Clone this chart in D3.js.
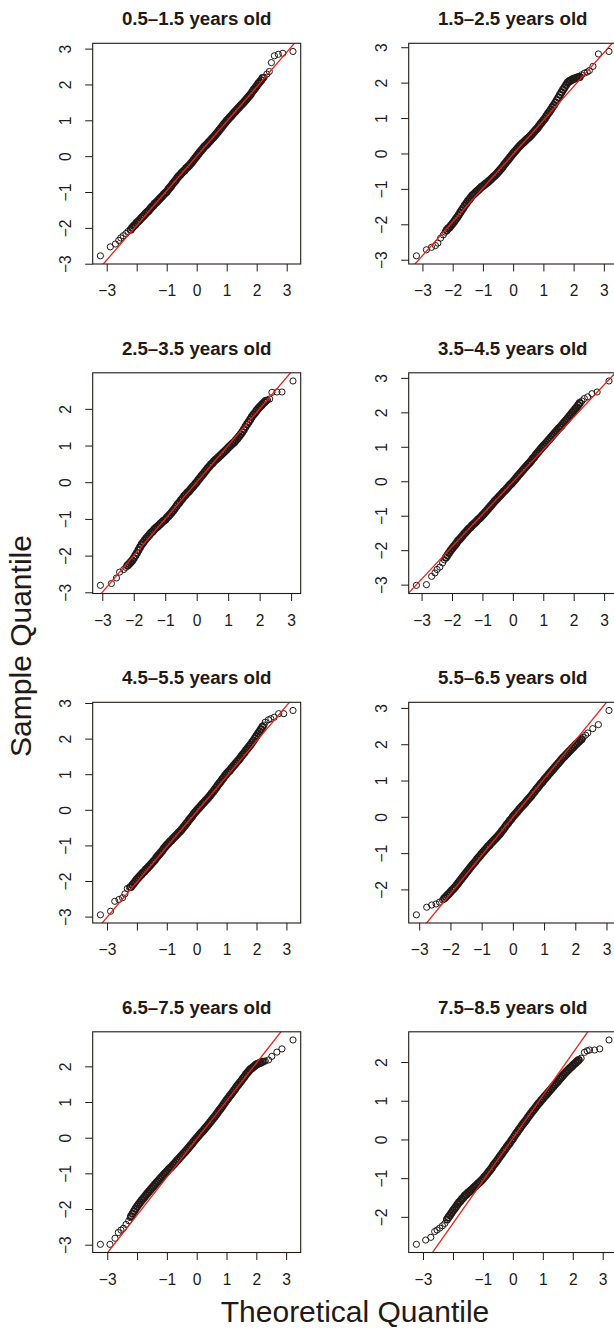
<!DOCTYPE html>
<html>
<head>
<meta charset="utf-8">
<script src="https://cdn.jsdelivr.net/npm/d3@7"></script>
<style>
  html, body { margin: 0; padding: 0; background: #ffffff; }
  svg { display: block; }
  text { font-family: "Liberation Sans", Arial, Helvetica, sans-serif; fill: #231916; }
</style>
</head>
<body>
<svg id="chart" width="614" height="1328"></svg>
<script>
// ---- data -------------------------------------------------------------
const panelTitles = [
  "0.5–1.5 years old", "1.5–2.5 years old",
  "2.5–3.5 years old", "3.5–4.5 years old",
  "4.5–5.5 years old", "5.5–6.5 years old",
  "6.5–7.5 years old", "7.5–8.5 years old"
];

// theoretical quantiles of the dense central part of every sample
const bandTheo = [-2.2,-2.15,-2.1,-2.05,-2,-1.95,-1.9,-1.85,-1.8,-1.75,-1.7,-1.65,-1.6,-1.55,-1.5,-1.45,-1.4,-1.35,-1.3,-1.25,-1.2,-1.15,-1.1,-1.05,-1,-0.95,-0.9,-0.85,-0.8,-0.75,-0.7,-0.65,-0.6,-0.55,-0.5,-0.45,-0.4,-0.35,-0.3,-0.25,-0.2,-0.15,-0.1,-0.05,0,0.05,0.1,0.15,0.2,0.25,0.3,0.35,0.4,0.45,0.5,0.55,0.6,0.65,0.7,0.75,0.8,0.85,0.9,0.95,1,1.05,1.1,1.15,1.2,1.25,1.3,1.35,1.4,1.45,1.5,1.55,1.6,1.65,1.7,1.75,1.8,1.85,1.9,1.95,2,2.05,2.1,2.15,2.2];

// sample quantiles at those theoretical quantiles, one array per age group
const sampleAge1 = [-2.05,-2.00,-1.95,-1.91,-1.86,-1.82,-1.78,-1.73,-1.69,-1.65,-1.60,-1.56,-1.52,-1.47,-1.42,-1.38,-1.33,-1.29,-1.25,-1.20,-1.16,-1.12,-1.07,-1.03,-0.99,-0.93,-0.88,-0.83,-0.77,-0.72,-0.67,-0.61,-0.56,-0.52,-0.47,-0.43,-0.39,-0.34,-0.30,-0.26,-0.21,-0.16,-0.11,-0.05,0,0.05,0.11,0.16,0.21,0.26,0.30,0.34,0.39,0.43,0.48,0.52,0.57,0.62,0.67,0.72,0.77,0.83,0.88,0.93,0.99,1.03,1.08,1.12,1.17,1.22,1.26,1.31,1.35,1.40,1.44,1.48,1.53,1.58,1.63,1.68,1.73,1.79,1.85,1.90,1.96,2.02,2.07,2.12,2.18];
const sampleAge2 = [-2.17,-2.12,-2.08,-2.03,-1.98,-1.92,-1.86,-1.80,-1.74,-1.67,-1.60,-1.54,-1.47,-1.41,-1.35,-1.30,-1.24,-1.19,-1.15,-1.11,-1.07,-1.03,-0.99,-0.95,-0.92,-0.88,-0.85,-0.82,-0.78,-0.74,-0.70,-0.66,-0.62,-0.58,-0.53,-0.48,-0.43,-0.38,-0.32,-0.27,-0.21,-0.16,-0.11,-0.05,0.00,0.05,0.10,0.15,0.20,0.24,0.28,0.32,0.36,0.40,0.44,0.48,0.52,0.57,0.62,0.67,0.71,0.77,0.83,0.88,0.94,0.99,1.06,1.12,1.18,1.24,1.31,1.37,1.44,1.51,1.58,1.66,1.73,1.80,1.86,1.93,2.00,2.03,2.06,2.08,2.11,2.12,2.14,2.15,2.16];
const sampleAge3 = [-2.27,-2.23,-2.18,-2.13,-2.07,-2.00,-1.93,-1.85,-1.77,-1.70,-1.64,-1.58,-1.53,-1.48,-1.43,-1.38,-1.34,-1.29,-1.25,-1.21,-1.17,-1.13,-1.09,-1.05,-1.02,-0.97,-0.93,-0.88,-0.83,-0.78,-0.72,-0.66,-0.60,-0.55,-0.49,-0.44,-0.38,-0.34,-0.29,-0.25,-0.20,-0.15,-0.10,-0.05,0.00,0.06,0.11,0.17,0.22,0.27,0.33,0.38,0.43,0.48,0.52,0.57,0.61,0.65,0.69,0.73,0.77,0.81,0.85,0.89,0.94,0.98,1.02,1.06,1.10,1.15,1.20,1.25,1.31,1.37,1.44,1.51,1.58,1.64,1.71,1.78,1.84,1.89,1.95,2.00,2.05,2.09,2.14,2.18,2.22];
const sampleAge4 = [-2.21,-2.15,-2.08,-2.02,-1.96,-1.90,-1.85,-1.79,-1.73,-1.68,-1.63,-1.58,-1.52,-1.48,-1.43,-1.38,-1.34,-1.29,-1.25,-1.21,-1.17,-1.12,-1.08,-1.04,-0.99,-0.94,-0.89,-0.84,-0.79,-0.74,-0.69,-0.64,-0.58,-0.54,-0.49,-0.44,-0.40,-0.35,-0.30,-0.26,-0.21,-0.16,-0.11,-0.07,-0.02,0.03,0.08,0.14,0.19,0.24,0.29,0.34,0.39,0.44,0.49,0.54,0.59,0.65,0.70,0.76,0.81,0.86,0.92,0.97,1.02,1.07,1.12,1.17,1.22,1.27,1.32,1.37,1.42,1.47,1.52,1.57,1.61,1.67,1.72,1.77,1.82,1.88,1.93,1.99,2.04,2.10,2.15,2.21,2.27];
const sampleAge5 = [-2.17,-2.11,-2.06,-2.01,-1.95,-1.91,-1.86,-1.82,-1.77,-1.73,-1.68,-1.64,-1.59,-1.55,-1.50,-1.45,-1.41,-1.35,-1.30,-1.25,-1.20,-1.15,-1.09,-1.04,-0.99,-0.95,-0.90,-0.86,-0.81,-0.77,-0.73,-0.69,-0.64,-0.60,-0.55,-0.50,-0.45,-0.39,-0.34,-0.28,-0.23,-0.18,-0.12,-0.07,-0.02,0.03,0.07,0.12,0.17,0.21,0.26,0.30,0.35,0.40,0.46,0.51,0.56,0.62,0.68,0.74,0.79,0.85,0.90,0.96,1.01,1.06,1.10,1.15,1.20,1.25,1.30,1.35,1.40,1.45,1.51,1.56,1.61,1.67,1.72,1.78,1.83,1.89,1.95,2.01,2.07,2.14,2.20,2.26,2.33];
const sampleAge6 = [-2.25,-2.21,-2.16,-2.12,-2.07,-2.02,-1.98,-1.93,-1.88,-1.82,-1.77,-1.71,-1.66,-1.60,-1.55,-1.49,-1.44,-1.38,-1.33,-1.28,-1.23,-1.17,-1.12,-1.07,-1.02,-0.97,-0.92,-0.87,-0.82,-0.78,-0.73,-0.69,-0.64,-0.60,-0.55,-0.50,-0.45,-0.39,-0.34,-0.28,-0.22,-0.17,-0.11,-0.06,0.00,0.05,0.10,0.15,0.20,0.25,0.30,0.34,0.39,0.44,0.49,0.54,0.59,0.65,0.70,0.76,0.81,0.86,0.92,0.96,1.02,1.07,1.12,1.17,1.22,1.27,1.32,1.37,1.42,1.47,1.52,1.57,1.62,1.66,1.71,1.75,1.80,1.84,1.89,1.93,1.98,2.02,2.06,2.10,2.14];
const sampleAge7 = [-2.20,-2.13,-2.06,-1.99,-1.93,-1.87,-1.82,-1.76,-1.71,-1.66,-1.61,-1.56,-1.51,-1.46,-1.41,-1.36,-1.31,-1.26,-1.22,-1.17,-1.12,-1.08,-1.03,-0.99,-0.95,-0.90,-0.86,-0.82,-0.77,-0.73,-0.68,-0.63,-0.59,-0.54,-0.50,-0.45,-0.41,-0.36,-0.31,-0.26,-0.21,-0.16,-0.11,-0.06,-0.01,0.04,0.09,0.14,0.18,0.23,0.28,0.33,0.38,0.43,0.48,0.54,0.59,0.64,0.70,0.76,0.81,0.87,0.93,0.99,1.05,1.10,1.16,1.21,1.27,1.32,1.38,1.44,1.49,1.55,1.60,1.66,1.71,1.77,1.82,1.87,1.92,1.95,1.98,2.02,2.05,2.07,2.09,2.11,2.13];
const sampleAge8 = [-2.07,-2.01,-1.96,-1.90,-1.84,-1.79,-1.74,-1.68,-1.63,-1.59,-1.54,-1.50,-1.45,-1.42,-1.38,-1.35,-1.31,-1.28,-1.24,-1.21,-1.17,-1.13,-1.10,-1.06,-1.02,-0.97,-0.93,-0.88,-0.83,-0.78,-0.73,-0.67,-0.62,-0.57,-0.52,-0.46,-0.41,-0.36,-0.30,-0.25,-0.19,-0.14,-0.09,-0.03,0.02,0.08,0.14,0.19,0.25,0.30,0.36,0.41,0.46,0.51,0.57,0.62,0.67,0.72,0.77,0.82,0.87,0.92,0.96,1.01,1.05,1.10,1.14,1.19,1.23,1.28,1.32,1.37,1.41,1.46,1.50,1.55,1.59,1.63,1.68,1.72,1.76,1.80,1.84,1.87,1.91,1.95,1.98,2.02,2.05];

// sparse tail points: theoretical and sample quantiles
const tailTheo1 = [-3.21,-2.88,-2.71,-2.60,-2.53,-2.45,-2.36,-2.29,2.25,2.34,2.42,2.49,2.59,2.72,2.87,3.21];
const tailSample1 = [-2.78,-2.53,-2.45,-2.35,-2.28,-2.22,-2.16,-2.10,2.20,2.29,2.36,2.61,2.80,2.84,2.87,2.92];
const tailTheo2 = [-3.20,-2.87,-2.70,-2.57,-2.49,-2.40,-2.31,-2.25,2.26,2.36,2.45,2.52,2.64,2.82,3.17];
const tailSample2 = [-2.89,-2.72,-2.65,-2.60,-2.53,-2.39,-2.30,-2.22,2.22,2.27,2.30,2.34,2.46,2.81,2.88];
const tailTheo3 = [-3.06,-2.71,-2.55,-2.45,-2.32,-2.25,2.25,2.32,2.39,2.55,2.71,3.06];
const tailSample3 = [-2.81,-2.76,-2.61,-2.45,-2.38,-2.32,2.24,2.27,2.45,2.46,2.46,2.76];
const tailTheo4 = [-3.17,-2.84,-2.67,-2.56,-2.49,-2.40,-2.31,-2.25,2.27,2.35,2.46,2.60,2.77,3.16];
const tailSample4 = [-3.02,-3.00,-2.76,-2.66,-2.56,-2.49,-2.37,-2.28,2.33,2.40,2.45,2.54,2.59,2.91];
const tailTheo5 = [-3.22,-2.88,-2.74,-2.60,-2.48,-2.40,-2.32,-2.25,2.25,2.29,2.40,2.48,2.59,2.74,2.91,3.22];
const tailSample5 = [-2.95,-2.85,-2.57,-2.52,-2.47,-2.36,-2.21,-2.18,2.38,2.46,2.53,2.56,2.60,2.70,2.70,2.79];
const tailTheo6 = [-3.09,-2.76,-2.60,-2.46,-2.35,-2.25,2.25,2.33,2.40,2.56,2.74,3.08];
const tailSample6 = [-2.70,-2.49,-2.43,-2.40,-2.35,-2.29,2.19,2.25,2.31,2.43,2.54,2.93];
const tailTheo7 = [-3.23,-2.91,-2.74,-2.63,-2.54,-2.46,-2.37,-2.28,-2.23,2.26,2.30,2.41,2.52,2.69,2.86,3.23];
const tailSample7 = [-2.99,-2.99,-2.82,-2.66,-2.59,-2.54,-2.43,-2.33,-2.24,2.14,2.15,2.18,2.28,2.40,2.49,2.74];
const tailTheo8 = [-3.22,-2.91,-2.74,-2.61,-2.53,-2.44,-2.35,-2.27,2.28,2.39,2.48,2.56,2.73,2.90,3.21];
const tailSample8 = [-2.71,-2.60,-2.53,-2.38,-2.34,-2.29,-2.23,-2.17,2.10,2.25,2.29,2.31,2.31,2.34,2.57];

// reference (qqline) intercepts and slopes
const lineIntercept = [0, -0.02, 0, -0.02, -0.05, -0.01, -0.04, 0.03];
const lineSlope = [0.966, 0.955, 1.0, 0.94, 0.99, 1.055, 1.065, 1.10];

// axis ticks and the labels printed under / beside them
const xTickValues = [-3, -2, -1, 0, 1, 2, 3];
const xTickLabels = [
  [-3, -1, 0, 1, 2, 3], [-3, -2, -1, 0, 1, 2, 3],
  [-3, -2, -1, 0, 1, 2, 3], [-3, -2, -1, 0, 1, 2, 3],
  [-3, -1, 0, 1, 2, 3], [-3, -2, -1, 0, 1, 2, 3],
  [-3, -1, 0, 1, 2, 3], [-3, -1, 0, 1, 2, 3]
];
const yTickValues = [
  [-3, -2, -1, 0, 1, 2, 3], [-3, -2, -1, 0, 1, 2, 3],
  [-3, -2, -1, 0, 1, 2], [-3, -2, -1, 0, 1, 2, 3],
  [-3, -2, -1, 0, 1, 2, 3], [-2, -1, 0, 1, 2, 3],
  [-3, -2, -1, 0, 1, 2], [-2, -1, 0, 1, 2]
];

const bandSamples = [sampleAge1, sampleAge2, sampleAge3, sampleAge4, sampleAge5, sampleAge6, sampleAge7, sampleAge8];
const tailTheos = [tailTheo1, tailTheo2, tailTheo3, tailTheo4, tailTheo5, tailTheo6, tailTheo7, tailTheo8];
const tailSamples = [tailSample1, tailSample2, tailSample3, tailSample4, tailSample5, tailSample6, tailSample7, tailSample8];

// ---- layout -----------------------------------------------------------
const ink = "#231916";
const red = "#e8231c";
const frameW = 208, frameH = 220.7;
const colLeft = [92.7, 408.7];
const rowTop = [43.3, 372.8, 702.3, 1031.8];
const tickFont = 15.6, titleFont = 18.7, axisTitleFont = 30;

const svg = d3.select("#chart");
const minus = d => d < 0 ? "\u2212" + Math.abs(d) : String(d);
// R-style axis range: data extent widened by 4% on each side
const widen = ([lo, hi]) => { const e = (hi - lo) * 0.04; return [lo - e, hi + e]; };

panelTitles.forEach((title, i) => {
  const x0 = colLeft[i % 2];
  const y0 = rowTop[Math.floor(i / 2)];
  const theo = bandTheo.concat(tailTheos[i]);
  const samp = bandSamples[i].concat(tailSamples[i]);
  // third field marks points from the densely packed centre of the sample
  const pts = theo.map((t, j) => [t, samp[j], j < bandTheo.length]);

  const x = d3.scaleLinear().domain(widen(d3.extent(theo))).range([x0, x0 + frameW]);
  const y = d3.scaleLinear().domain(widen(d3.extent(samp))).range([y0 + frameH, y0]);

  const g = svg.append("g");
  const clipId = "plot-region-" + i;
  g.append("clipPath").attr("id", clipId)
    .append("rect").attr("x", x0).attr("y", y0).attr("width", frameW).attr("height", frameH);

  // open-circle quantile points (the packed centre is drawn with a heavier ring)
  g.append("g")
    .selectAll("circle")
    .data(pts)
    .join("circle")
    .attr("cx", d => x(d[0]))
    .attr("cy", d => y(d[1]))
    .attr("r", d => d[2] ? 3.2 : 3.1)
    .attr("fill", "none")
    .attr("stroke", ink)
    .attr("stroke-width", d => d[2] ? 1.6 : 1);

  // reference line through the quartiles
  const [xa, xb] = x.domain();
  g.append("line")
    .attr("clip-path", `url(#${clipId})`)
    .attr("x1", x(xa)).attr("y1", y(lineIntercept[i] + lineSlope[i] * xa))
    .attr("x2", x(xb)).attr("y2", y(lineIntercept[i] + lineSlope[i] * xb))
    .attr("stroke", red)
    .attr("stroke-width", 1.3);

  // plot frame
  g.append("rect")
    .attr("x", x0).attr("y", y0).attr("width", frameW).attr("height", frameH)
    .attr("fill", "none").attr("stroke", ink).attr("stroke-width", 1.1);

  // x axis
  const xAxis = d3.axisBottom(x)
    .tickValues(xTickValues)
    .tickSize(7.5)
    .tickPadding(13.9)
    .tickFormat(d => xTickLabels[i].includes(d) ? minus(d) : "");
  g.append("g")
    .attr("transform", `translate(0,${y0 + frameH})`)
    .attr("color", ink)
    .call(xAxis)
    .call(a => a.select(".domain").remove())
    .call(a => a.selectAll(".tick line").attr("stroke-width", 1))
    .call(a => a.selectAll("text").attr("font-size", tickFont));

  // y axis, labels turned parallel to the axis
  const yAxis = d3.axisLeft(y)
    .tickValues(yTickValues[i])
    .tickSize(7.5)
    .tickFormat(minus);
  g.append("g")
    .attr("transform", `translate(${x0},0)`)
    .attr("color", ink)
    .call(yAxis)
    .call(a => a.select(".domain").remove())
    .call(a => a.selectAll(".tick line").attr("stroke-width", 1))
    .call(a => a.selectAll("text")
      .attr("x", 0).attr("dy", null)
      .attr("text-anchor", "middle")
      .attr("font-size", tickFont)
      .attr("transform", "translate(-21.7,0) rotate(-90)"));

  // panel title
  g.append("text")
    .attr("x", x0 + frameW / 2)
    .attr("y", y0 - 18.3)
    .attr("text-anchor", "middle")
    .attr("font-weight", "bold")
    .attr("font-size", titleFont)
    .text(title);
});

// shared axis titles
svg.append("text")
  .attr("x", 355).attr("y", 1321.7)
  .attr("text-anchor", "middle")
  .attr("font-size", axisTitleFont)
  .text("Theoretical Quantile");

svg.append("text")
  .attr("transform", "translate(31,646) rotate(-90)")
  .attr("text-anchor", "middle")
  .attr("font-size", axisTitleFont)
  .text("Sample Quantile");
</script>
</body>
</html>
